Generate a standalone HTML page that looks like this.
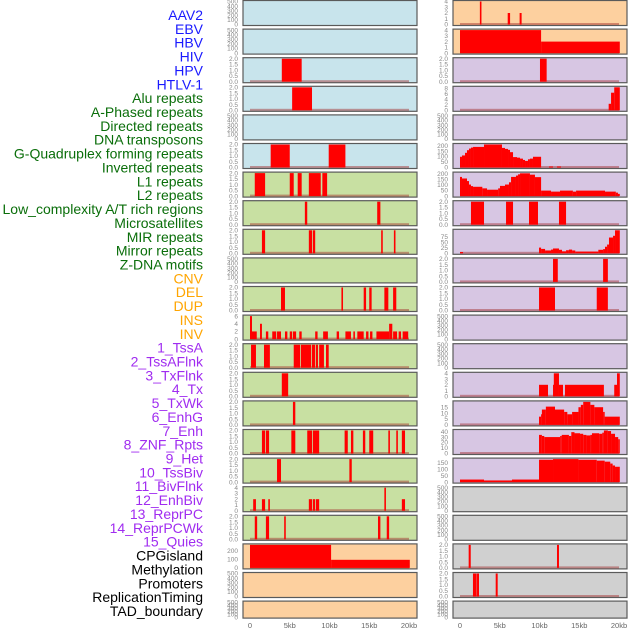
<!DOCTYPE html>
<html><head><meta charset="utf-8"><style>
html,body{margin:0;padding:0;background:#fff;}
svg{display:block;font-family:"Liberation Sans",sans-serif;}
</style></head><body>
<svg id="chart" width="630" height="630" viewBox="0 0 630 630" xmlns="http://www.w3.org/2000/svg"></svg>
<script>
// ---- data ----
const trackLabels = ["AAV2","EBV","HBV","HIV","HPV","HTLV-1","Alu repeats","A-Phased repeats","Directed repeats","DNA transposons","G-Quadruplex forming repeats","Inverted repeats","L1 repeats","L2 repeats","Low_complexity A/T rich regions","Microsatellites","MIR repeats","Mirror repeats","Z-DNA motifs","CNV","DEL","DUP","INS","INV","1_TssA","2_TssAFlnk","3_TxFlnk","4_Tx","5_TxWk","6_EnhG","7_Enh","8_ZNF_Rpts","9_Het","10_TssBiv","11_BivFlnk","12_EnhBiv","13_ReprPC","14_ReprPCWk","15_Quies","CPGisland","Methylation","Promoters","ReplicationTiming","TAD_boundary"];
const labelGroups = [6,13,5,15,5];
const xTickKb = [0,5,10,15,20];
const xTickLabels = ["0","5kb","10kb","15kb","20kb"];
const leftBg = ["b","b","b","b","b","b","g","g","g","g","g","g","g","g","g","g","g","g","g","o","o","o"];
const rightBg = ["o","o","p","p","p","p","p","p","p","p","p","p","p","p","p","p","p","e","e","e","e","e"];
const leftTicks = [[0,100,200,300,400,500],[0,100,200,300,400,500],[0,0.5,1,1.5,2],[0,0.5,1,1.5,2],[0,100,200,300,400,500],[0,0.5,1,1.5,2],[0,0.5,1,1.5,2],[0,0.5,1,1.5,2],[0,0.5,1,1.5,2],[0,100,200,300,400,500],[0,0.5,1,1.5,2],[0,2,4,6],[0,0.5,1,1.5,2],[0,0.5,1,1.5,2],[0,0.5,1,1.5,2],[0,0.5,1,1.5,2],[0,0.5,1,1.5,2],[0,1,2,3,4],[0,0.5,1,1.5,2],[0,100,200],[0,100,200,300,400,500],[0,100,200,300,400,500]];
const leftMax = [500,500,2,2,500,2,2,2,2,500,2,6,2,2,2,2,2,4,2,270,500,500];
const rightTicks = [[0,1,2,3,4],[0,1,2,3,4],[0,0.5,1,1.5,2],[0,2,4,6,8],[0,100,200,300,400,500],[0,50,100,150,200],[0,50,100,150,200],[0,0.5,1,1.5,2],[0,25,50,75],[0,0.5,1,1.5,2],[0,0.5,1,1.5,2],[0,100,200,300,400,500],[0,100,200,300,400,500],[0,1,2,3,4],[0,5,10,15],[0,10,20,30,40],[0,50,100,150],[0,100,200,300,400,500],[0,100,200,300,400,500],[0,0.5,1,1.5,2],[0,0.5,1,1.5,2],[0,100,200,300,400,500]];
const rightMax = [4,4,2,8.3,500,210,205,2,105,2,2,500,500,4,19.5,42,180,500,500,2,2,500];

// segments: [startKb, endKb, value]
const L1=[],L2=[],L5=[],L10=[],L21=[],L22=[];
const L3=[[4.0,6.5,2]];
const L4=[[5.3,7.8,2]];
const L6=[[2.6,5.0,2],[9.9,12.0,2]];
const L7=[[0.6,1.9,2],[5.0,5.5,2],[6.0,6.5,2],[7.4,8.9,2],[9.1,9.7,2]];
const L8=[[6.9,7.2,2],[16.0,16.4,2]];
const L9=[[1.5,1.9,2],[7.4,7.8,2],[7.9,8.2,2],[16.5,16.7,2],[18.1,18.3,2]];
const L11=[[3.9,4.4,2],[11.5,11.7,2],[14.3,14.6,2],[15.0,15.3,2],[16.9,17.4,2],[18.0,18.4,2]];
const L12=[[0,0.25,6],[0.25,0.85,2],[1.26,1.5,4],[2.0,2.3,2],[2.8,3.3,2],[3.4,3.9,2],[4.4,4.7,2],[5.0,5.3,2],[5.4,5.8,2],[6.2,6.5,2],[8.2,8.5,2],[9.2,9.8,2],[10.9,11.2,2],[12.0,12.7,2],[13.0,13.2,2],[13.5,14.3,2],[14.6,14.9,2],[15.1,15.4,2],[15.9,17.5,2],[17.5,17.9,4],[18.0,18.5,2],[18.7,19.0,2],[19.2,19.9,2]];
const L13=[[0.13,0.75,2],[1.76,2.5,2],[5.5,6.3,2],[6.4,7.7,2],[7.8,8.2,2],[8.3,8.55,2],[8.7,9.3,2],[9.56,9.9,2]];
const L14=[[4.0,4.8,2]];
const L15=[[5.4,5.7,2]];
const L16=[[1.5,1.9,2],[2.0,2.4,2],[5.2,5.7,2],[7.2,7.8,2],[7.9,8.7,2],[11.9,12.3,2],[12.7,13.0,2],[14.2,14.5,2],[15.0,15.5,2],[17.4,17.6,2],[18.4,18.6,2],[19.1,19.5,2]];
const L17=[[3.4,3.9,2],[12.5,12.8,2]];
const L18=[[0.4,0.75,2],[1.5,1.9,2],[2.3,2.5,2],[7.4,7.8,2],[7.9,8.2,2],[8.3,8.7,2],[16.9,17.1,4],[19.1,19.5,2]];
const L19=[[0.6,0.9,2],[2.0,2.4,2],[4.3,4.5,2],[16.1,16.4,2],[17.2,17.5,2]];
const L20=[[0,10.2,270],[10.2,20.1,95]];
const R5=[],R12=[],R13=[],R18=[],R19=[],R22=[];
const R1=[[2.5,2.7,4.2],[6.0,6.3,2],[7.5,7.75,2]];
const R2=[[0,10.2,4],[10.2,20.1,2]];
const R3=[[10.06,10.9,2]];
const R4=[[18.7,19.0,2.35],[19.0,19.4,6.35],[19.4,20.1,8.3]];
const R6=[[0,0.25,98],[0.25,0.63,110],[0.63,0.88,134],[0.88,1.13,158],[1.13,1.38,173],[1.38,1.64,182],[1.64,3.02,188],[3.02,5.28,210],[5.28,5.66,179],[5.66,6.04,170],[6.04,6.29,161],[6.29,6.67,140],[6.67,7.17,95],[7.17,7.55,90],[7.55,7.92,81],[7.92,8.18,69],[8.18,8.55,60],[8.55,8.8,75],[8.8,9.18,81],[9.18,10.2,98],[11.2,11.7,9],[12.2,12.7,9]];
const R7=[[0,0.25,171],[0.25,0.88,157],[0.88,1.13,134],[1.13,1.38,103],[1.38,1.64,89],[1.64,2.81,83],[2.81,3.4,69],[3.4,4.8,57],[4.8,5.03,69],[5.03,5.66,91],[5.66,6.16,103],[6.16,6.42,123],[6.42,7.04,171],[7.04,7.3,183],[7.3,7.55,194],[7.55,8.8,203],[8.8,9.43,191],[9.43,10.2,169],[10.2,11.45,49],[11.45,12.58,40],[12.58,14.2,49],[14.2,14.6,40],[14.6,18.24,49],[18.24,19.6,40],[19.6,19.87,31],[19.87,20.1,20]];
const R8=[[1.38,3.02,2],[5.79,6.67,2],[8.68,9.81,2],[12.45,13.34,2]];
const R9=[[0,0.38,6],[9.94,10.2,26],[10.2,10.7,20],[10.7,11.45,13],[11.45,11.7,17],[11.7,12.45,22],[12.45,12.83,16],[12.83,13.34,9],[13.34,13.7,14],[13.7,14.1,17],[14.1,14.5,13],[14.5,17.4,8],[17.4,18.0,16],[18.0,18.24,19],[18.24,18.5,30],[18.5,18.74,40],[18.74,19.25,72],[19.25,19.5,80],[19.5,20.1,105]];
const R10=[[11.7,12.3,2],[18.0,18.6,2]];
const R11=[[9.94,11.95,2],[17.2,18.6,2]];
const R14=[[9.94,11.07,2],[11.7,11.8,2],[11.8,12.45,4],[12.45,12.96,2],[13.2,18.1,2],[19.4,19.75,2],[19.75,20.1,4]];
const R15=[[9.94,10.2,7],[10.2,10.3,9],[10.3,10.8,13],[10.8,11.95,15.5],[11.95,13.1,13],[13.1,13.5,11],[13.5,14.1,9],[14.1,14.9,11],[14.9,15.2,15],[15.2,15.5,17],[15.5,16.4,19.5],[16.4,16.9,17],[16.9,18.0,15],[18.0,18.2,11],[18.2,20.1,7]];
const R16=[[9.94,10.3,34],[10.3,10.6,32],[10.6,12.6,30],[12.6,12.8,32],[12.8,13.7,34],[13.7,14.0,32],[14.0,14.4,39],[14.4,15.1,37],[15.1,15.5,36],[15.5,15.9,34],[15.9,16.4,33],[16.4,16.6,34],[16.6,17.5,37],[17.5,17.9,36],[17.9,18.1,38],[18.1,18.6,42],[18.6,19.0,41],[19.0,19.5,36],[19.5,19.9,30],[19.9,20.1,26]];
const R17=[[0,3.02,20],[3.02,6.54,13],[6.54,9.94,20],[9.94,11.7,175],[11.7,14.9,180],[14.9,17.2,175],[17.2,18.2,168],[18.2,18.9,160],[18.9,19.2,145],[19.2,19.5,130],[19.5,20.1,120]];
const R20=[[1.09,1.35,2],[12.2,12.45,2]];
const R21=[[1.63,2.1,2],[2.14,2.39,2],[4.49,4.74,2]];
const leftSegs=[L1,L2,L3,L4,L5,L6,L7,L8,L9,L10,L11,L12,L13,L14,L15,L16,L17,L18,L19,L20,L21,L22];
const rightSegs=[R1,R2,R3,R4,R5,R6,R7,R8,R9,R10,R11,R12,R13,R14,R15,R16,R17,R18,R19,R20,R21,R22];

// ---- drawing ----
const NS="http://www.w3.org/2000/svg";
const svg=document.getElementById('chart');
function mk(tag,attrs,parent){const e=document.createElementNS(NS,tag);for(const k in attrs)e.setAttribute(k,attrs[k]);(parent||svg).appendChild(e);return e;}
const bgCol={b:"#c8e4ec",g:"#c8e0a2",o:"#fdd09f",p:"#d7c6e3",e:"#d0d0d0"};
const groupCol=["#1a1aff","#0a6e0a","#ffa500","#a02cf0","#000000"];
// labels
let li=0;
labelGroups.forEach((n,g)=>{for(let k=0;k<n;k++){const t=mk('text',{x:203,y:20+li*13.86,'text-anchor':'end','font-size':'14',fill:groupCol[g]});


t.textContent=trackLabels[li];li++;}});
function xScale(kb,x0){return x0+kb*7.95;}
function drawPanel(i,side,bg,ticks,ymax,segs){
  const left=side===0?243:453, right=side===0?417:627, x0=side===0?250:460;
  const top=0.5+i*28.6; const h=i===21?17:25; const bottom=top+h;
  const g=mk('g',{});
  
  
  const r=mk('rect',{x:left,y:top,width:right-left,height:h,fill:bgCol[bg],stroke:'#5a5a5a','stroke-width':1.2},g);
  
  
  const yS=v=>bottom-1-(v/ymax)*(h-2);
  ticks.forEach(tv=>{if(tv>ymax)return;const t=mk('text',{x:238,y:yS(tv)+2.2,'text-anchor':'end','font-size':'6.5',fill:'#888'},g);
    if(side===1)t.setAttribute('x',448);
    
    
    t.textContent=(ticks[ticks.length-1]===2)?tv.toFixed(1):String(tv);});
  if(segs.length){
    const bl=mk('rect',{x:xScale(0,x0),y:bottom-2.5,width:xScale(20,x0)-xScale(0,x0),height:2,fill:'rgba(160,40,40,0.45)'},g);
    
    
  }
  segs.forEach(s=>{const v=Math.min(s[2],ymax);const y=yS(v);
    const b=mk('rect',{x:xScale(s[0],x0),y:y,width:Math.max(1.5,xScale(s[1],x0)-xScale(s[0],x0)),height:bottom-1-y,fill:'#ff0000'},g);
    
    });
}
for(let i=0;i<22;i++){drawPanel(i,0,leftBg[i],leftTicks[i],leftMax[i],leftSegs[i]);drawPanel(i,1,rightBg[i],rightTicks[i],rightMax[i],rightSegs[i]);}
[250,460].forEach(x0=>{xTickKb.forEach((kb,j)=>{const t=mk('text',{x:xScale(kb,x0),y:628,'text-anchor':'middle','font-size':'7.5',fill:'#666'});
  
  
  t.textContent=xTickLabels[j];});});
</script>
</body></html>
